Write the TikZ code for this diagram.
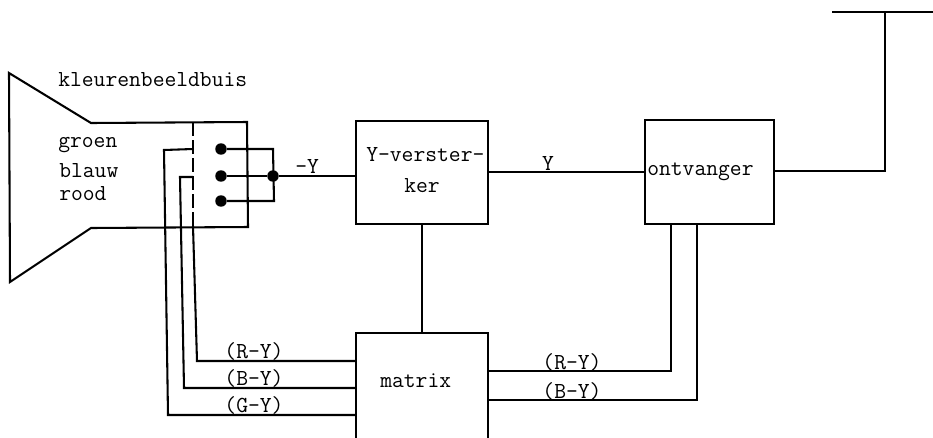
\documentclass[tikz,border=0pt]{standalone}
\begin{document}
\begin{tikzpicture}[x=0.75pt,y=-0.75pt,
  wire/.style={line width=1.55pt,line join=miter},
  box/.style={draw,line width=1.55pt,inner sep=0pt,outer sep=0pt},
  txt/.style={inner sep=0pt,font=\ttfamily\fontsize{17.2}{19}\selectfont},
  dot/.style={circle,fill=black,draw=none,minimum size=8.6pt,inner sep=0pt}]
\path[use as bounding box,clip] (0,0) rectangle (933,437);
% boxes
\node[box,anchor=north west,minimum width=99pt,minimum height=77.5pt] (yamp) at (356,121) {};
\node[box,anchor=north west,minimum width=97pt,minimum height=78pt] (ontv) at (645,120) {};
\node[box,anchor=north west,minimum width=99pt,minimum height=90pt] (matr) at (356,333) {};
% tube
\coordinate (t1) at (9,73);\coordinate (t2) at (91,123);\coordinate (t3) at (247,122);
\coordinate (t4) at (248,227);\coordinate (t5) at (91,228);\coordinate (t6) at (10,282);
\draw[wire] (t1)--(t2)--(t3)--(t4)--(t5)--(t6)--cycle;
\coordinate (dA) at (193,122);\coordinate (dB) at (193,226);
\draw[wire,dash pattern=on 10.5pt off 3pt] (dA)--(dB);
% electrodes
\node[dot] (e1) at (221,149) {};
\node[dot] (e2) at (221,176) {};
\node[dot] (e3) at (221,201) {};
\node[dot] (j) at (273,176) {};
\coordinate (bt) at (273,149);\coordinate (bb) at (274,201);
\draw[wire] (e1)--(bt)--(bb)--(e3);
\draw[wire] (e2)--(j)--(j-|yamp.west);
% colour wires to matrix
\coordinate (g1) at (193,149);\coordinate (g2) at (164,150);\coordinate (g3) at (168,415);
\coordinate (b1) at (193,177);\coordinate (b2) at (180,177);\coordinate (b3) at (184,388);
\coordinate (r1) at (193,226);\coordinate (r3) at (197,361);
\draw[wire] (g1)--(g2)--(g3)--(g3-|matr.west);
\draw[wire] (b1)--(b2)--(b3)--(b3-|matr.west);
\draw[wire] (r1)--(r3)--(r3-|matr.west);
% central connections
\draw[wire] (yamp.east|-0,172)--(ontv.west|-0,172);
\coordinate (s1) at (422,224);
\draw[wire] (s1|-yamp.south)--(s1|-matr.north);
\coordinate (o1) at (671,371);\coordinate (o2) at (697,400);
\draw[wire] (o1|-ontv.south)--(o1)--(o1-|matr.east);
\draw[wire] (o2|-ontv.south)--(o2)--(o2-|matr.east);
% antenna
\coordinate (a1) at (885,171);\coordinate (a2) at (885,12);
\coordinate (a3) at (832,12);\coordinate (a4) at (933,12);
\draw[wire] (ontv.east|-a1)--(a1)--(a2);
\draw[wire] (a3)--(a4);
% texts
\node[txt,anchor=west] (l1) at (58,80) {kleurenbeeldbuis};
\node[txt,anchor=west] (l2) at (58,145) {groen};
\node[txt,anchor=west] (l3) at (59,171) {blauw};
\node[txt,anchor=west] (l4) at (59,194) {rood};
\node[txt,anchor=west] (l5) at (295,166) {-Y};
\node[txt,anchor=west] (l6) at (366,155) {Y-verster-};
\node[txt,anchor=west] (l7) at (404,186) {ker};
\node[txt] (l8) at (548,163) {Y};
\node[txt,anchor=west] (l9) at (647,172) {ontvanger};
\node[txt,anchor=west] (l10) at (380,381) {matrix};
\node[txt] (l11) at (254,351) {(R-Y)};
\node[txt] (l12) at (254,378) {(B-Y)};
\node[txt] (l13) at (254,405) {(G-Y)};
\node[txt] (l14) at (572,362) {(R-Y)};
\node[txt] (l15) at (572,391) {(B-Y)};
\end{tikzpicture}
\end{document}
